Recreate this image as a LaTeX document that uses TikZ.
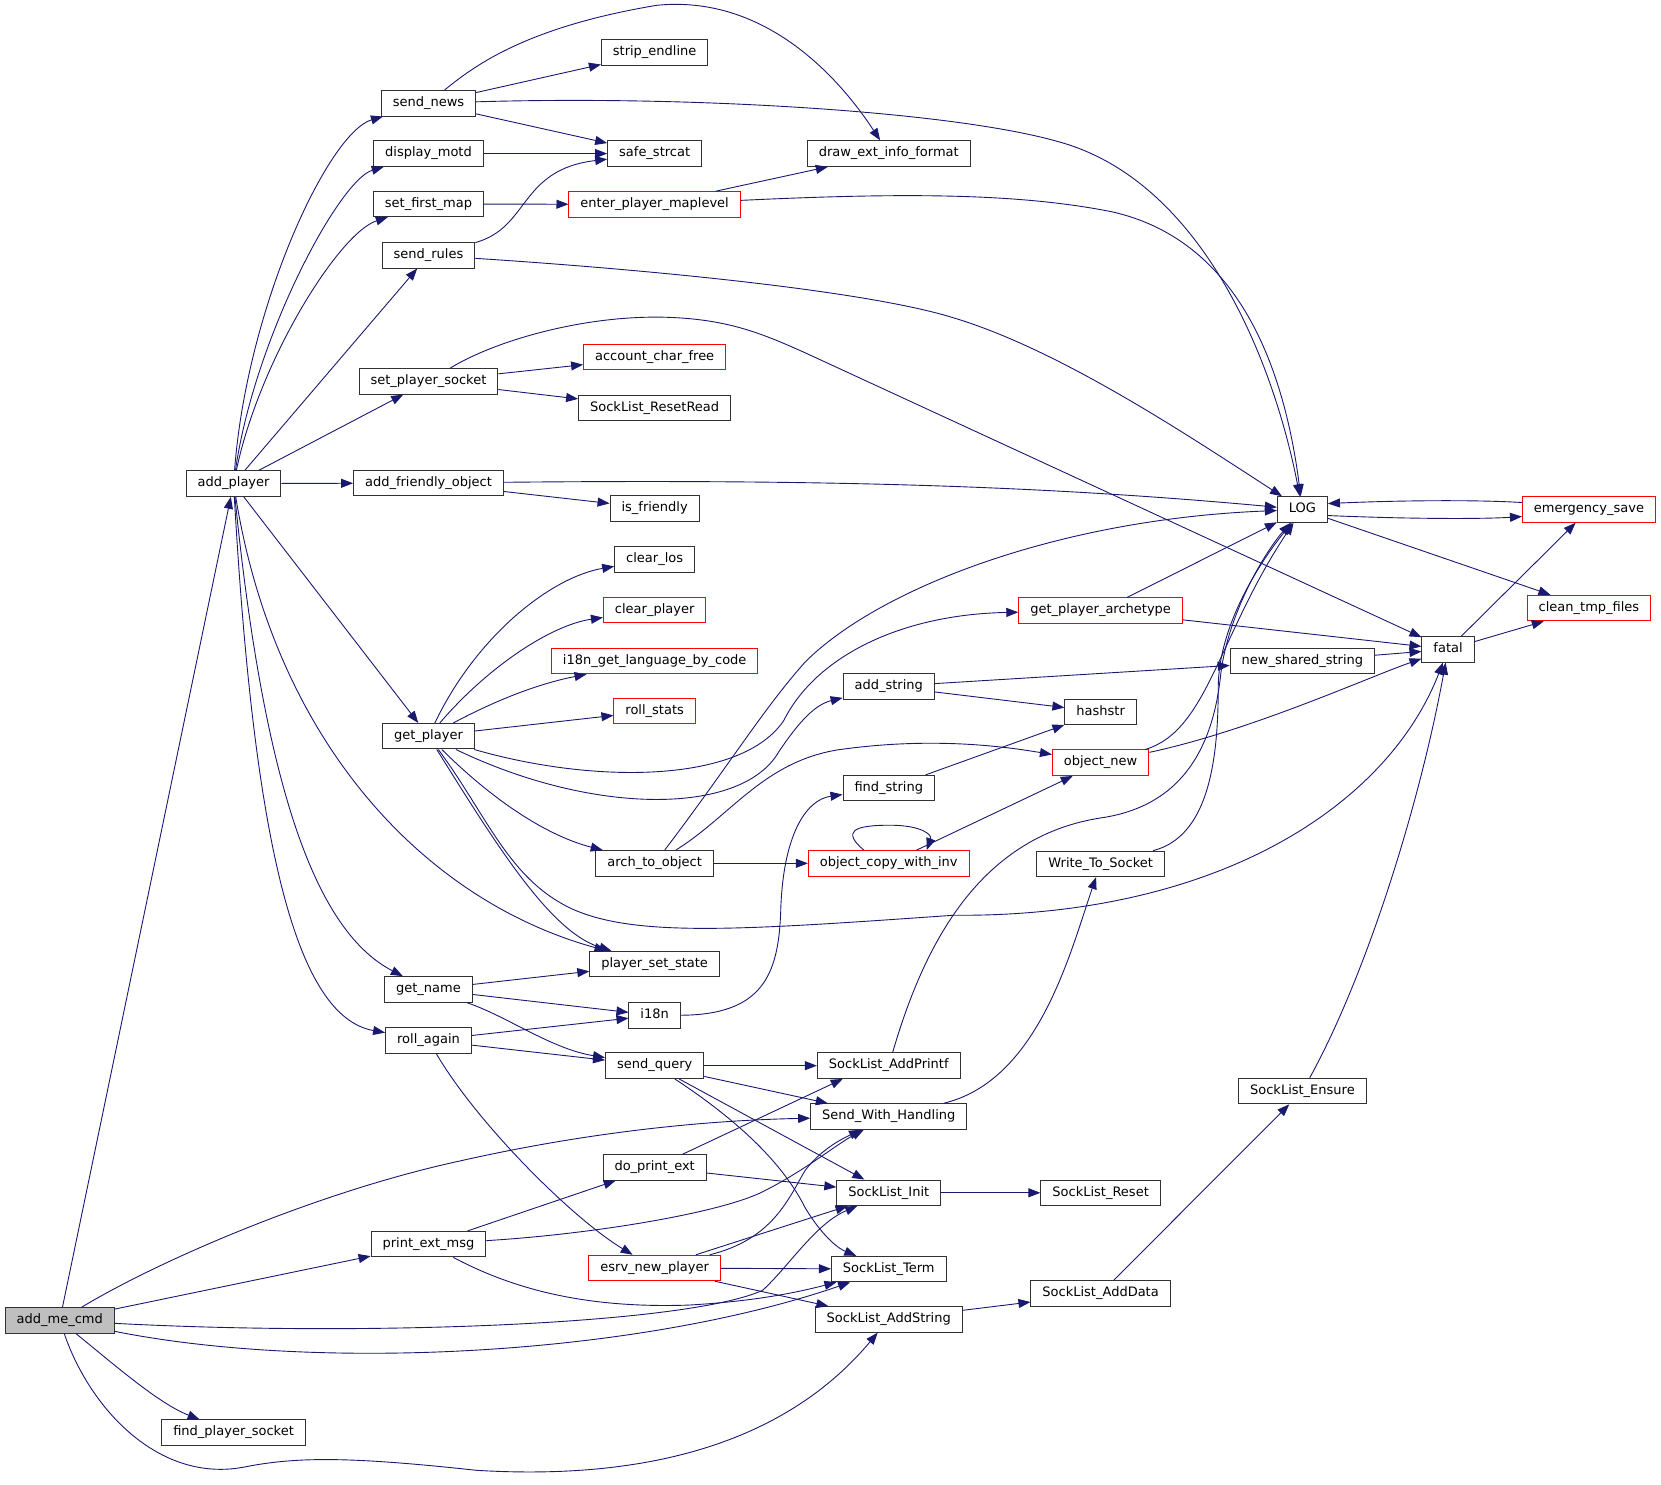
\documentclass[tikz,border=0pt]{standalone}
\usepackage{fontspec}
\setmainfont{DejaVu Sans}
\usetikzlibrary{arrows.meta}
\definecolor{edgeblue}{RGB}{25,25,112}
\definecolor{nodeborder}{RGB}{50,50,50}
\definecolor{nodered}{RGB}{255,0,0}
\definecolor{rootfill}{RGB}{191,191,191}
\tikzset{
  fn/.style={draw=nodeborder, line width=1pt, fill=white, inner xsep=11.5pt, inner ysep=0pt,
    minimum height=25.5pt, text height=9.5pt, text depth=3pt, font=\fontsize{13pt}{15pt}\selectfont},
  fnred/.style={fn, draw=nodered},
  fnroot/.style={fn, fill=rootfill},
  cg/.style={draw=edgeblue, line width=0.9pt, -{Triangle[length=12pt,width=9pt]}},
}
\begin{document}
\begin{tikzpicture}[x=1.0594pt,y=-1.0594pt]
\useasboundingbox (0,0) rectangle (1568,1401.7);
% ---------- nodes ----------
\node[fnroot] (addmecmd) at (56.4,1246.5) {add\_me\_cmd};
\node[fn] (addplayer) at (220.5,456.5) {add\_player};
\node[fn] (findplayersocket) at (220.5,1352.5) {find\_player\_socket};
\node[fn] (sendnews) at (404.5,97.5) {send\_news};
\node[fn] (displaymotd) at (404.5,145) {display\_motd};
\node[fn] (setfirstmap) at (404.5,192.5) {set\_first\_map};
\node[fn] (sendrules) at (404.5,241) {send\_rules};
\node[fn] (setplayersocket) at (404.5,360) {set\_player\_socket};
\node[fn] (addfriendly) at (404.5,456) {add\_friendly\_object};
\node[fn] (getplayer) at (404.5,695) {get\_player};
\node[fn] (getname) at (404.5,934) {get\_name};
\node[fn] (rollagain) at (404.5,982) {roll\_again};
\node[fn] (printextmsg) at (404.5,1174.5) {print\_ext\_msg};
\node[fn] (stripendline) at (618,49.5) {strip\_endline};
\node[fn] (safestrcat) at (618,145) {safe\_strcat};
\node[fnred] (enterplayer) at (618,193) {enter\_player\_maplevel};
\node[fnred] (accountcharfree) at (618,337) {account\_char\_free};
\node[fn] (resetread) at (618,385) {SockList\_ResetRead};
\node[fn] (isfriendly) at (618,480) {is\_friendly};
\node[fn] (clearlos) at (618,528) {clear\_los};
\node[fnred] (clearplayer) at (618,576) {clear\_player};
\node[fnred] (i18nlang) at (618,624) {i18n\_get\_language\_by\_code};
\node[fnred] (rollstats) at (618,671) {roll\_stats};
\node[fn] (archtoobject) at (618,815) {arch\_to\_object};
\node[fn] (playersetstate) at (618,910) {player\_set\_state};
\node[fn] (i18n) at (618,958.5) {i18n};
\node[fn] (sendquery) at (618,1006) {send\_query};
\node[fn] (doprintext) at (618,1102) {do\_print\_ext};
\node[fnred] (esrvnewplayer) at (618,1197) {esrv\_new\_player};
\node[fn] (drawext) at (839,145) {draw\_ext\_info\_format};
\node[fn] (addstring) at (839,648) {add\_string};
\node[fn] (findstring) at (839,744) {find\_string};
\node[fnred] (objcopy) at (839,815) {object\_copy\_with\_inv};
\node[fn] (addprintf) at (839,1006) {SockList\_AddPrintf};
\node[fn] (sendwith) at (839,1054) {Send\_With\_Handling};
\node[fn] (slinit) at (839,1126) {SockList\_Init};
\node[fn] (slterm) at (839,1198) {SockList\_Term};
\node[fn] (sladdstring) at (839,1245.5) {SockList\_AddString};
\node[fnred] (getarch) at (1039,576.5) {get\_player\_archetype};
\node[fn] (hashstr) at (1039,672) {hashstr};
\node[fnred] (objectnew) at (1039,720) {object\_new};
\node[fn] (writetosocket) at (1039,815.5) {Write\_To\_Socket};
\node[fn] (slreset) at (1039,1126) {SockList\_Reset};
\node[fn] (sladddata) at (1039,1221) {SockList\_AddData};
\node[fn] (logn) at (1229.5,481) {LOG};
\node[fn] (newshared) at (1229.5,624) {new\_shared\_string};
\node[fn] (slensure) at (1229.5,1030) {SockList\_Ensure};
\node[fn] (fatal) at (1367,613) {fatal};
\node[fnred] (emergency) at (1500,481) {emergency\_save};
\node[fnred] (cleantmp) at (1500,574) {clean\_tmp\_files};
% ---------- add_me_cmd ----------
\draw[cg] (addmecmd) -- (addplayer);
\draw[cg] (addmecmd) .. controls (150,1190) and (300,1125) .. (434,1096) .. controls (540,1072) and (650,1058) .. (sendwith);
\draw[cg] (addmecmd) -- (printextmsg);
\draw[cg] (addmecmd) .. controls (350,1262) and (650,1250) .. (720,1218) .. controls (745,1195) and (770,1155) .. (slinit);
\draw[cg] (addmecmd) .. controls (300,1295) and (600,1280) .. (slterm);
\draw[cg] (addmecmd) .. controls (110,1290) and (150,1325) .. (findplayersocket);
\draw[cg] (addmecmd) .. controls (85,1330) and (150,1400) .. (230,1385) .. controls (280,1375) and (330,1375) .. (450,1388) .. controls (650,1400) and (760,1340) .. (sladdstring);
% ---------- add_player ----------
\draw[cg] (addplayer) .. controls (233,290) and (310,125) .. (sendnews);
\draw[cg] (addplayer) .. controls (240,320) and (320,170) .. (displaymotd);
\draw[cg] (addplayer) .. controls (245,340) and (320,220) .. (setfirstmap);
\draw[cg] (addplayer) -- (sendrules);
\draw[cg] (addplayer) -- (setplayersocket);
\draw[cg] (addplayer) -- (addfriendly);
\draw[cg] (addplayer) -- (getplayer);
\draw[cg] (addplayer) .. controls (260,700) and (400,850) .. (playersetstate);
\draw[cg] (addplayer) .. controls (250,750) and (300,880) .. (getname);
\draw[cg] (addplayer) .. controls (240,800) and (280,960) .. (rollagain);
% ---------- send_news ----------
\draw[cg] (sendnews) -- (stripendline);
\draw[cg] (sendnews) -- (safestrcat);
\draw[cg] (sendnews) .. controls (450,60) and (500,25) .. (620,5) .. controls (720,-5) and (790,70) .. (drawext);
\draw[cg] (sendnews) .. controls (650,90) and (900,105) .. (1000,134) .. controls (1130,170) and (1200,330) .. (logn);
% ---------- col 2 others ----------
\draw[cg] (displaymotd) -- (safestrcat);
\draw[cg] (setfirstmap) -- (enterplayer);
\draw[cg] (sendrules) .. controls (500,215) and (490,160) .. (safestrcat);
\draw[cg] (sendrules) .. controls (620,255) and (820,275) .. (900,300) .. controls (1000,330) and (1120,410) .. (logn);
\draw[cg] (setplayersocket) -- (accountcharfree);
\draw[cg] (setplayersocket) -- (resetread);
\draw[cg] (setplayersocket) .. controls (470,320) and (560,295) .. (640,300) .. controls (690,303) and (720,315) .. (760,333) -- (fatal);
\draw[cg] (enterplayer) -- (drawext);
\draw[cg] (enterplayer) .. controls (850,182) and (960,182) .. (1050,200) .. controls (1160,225) and (1210,330) .. (logn);
\draw[cg] (addfriendly) .. controls (800,452) and (1000,460) .. (logn);
\draw[cg] (addfriendly) -- (isfriendly);
% ---------- get_player ----------
\draw[cg] (getplayer) .. controls (450,600) and (520,545) .. (clearlos);
\draw[cg] (getplayer) .. controls (460,630) and (520,590) .. (clearplayer);
\draw[cg] (getplayer) .. controls (470,660) and (510,645) .. (i18nlang);
\draw[cg] (getplayer) -- (rollstats);
\draw[cg] (getplayer) .. controls (560,740) and (700,740) .. (740,680) .. controls (770,620) and (850,580) .. (getarch);
\draw[cg] (getplayer) .. controls (560,770) and (700,770) .. (735,710) .. controls (755,680) and (770,665) .. (addstring);
\draw[cg] (getplayer) .. controls (470,760) and (520,790) .. (archtoobject);
\draw[cg] (getplayer) .. controls (470,800) and (520,880) .. (playersetstate);
\draw[cg] (getplayer) .. controls (460,770) and (480,830) .. (540,858) .. controls (600,885) and (700,878) .. (900,864) .. controls (1150,866) and (1310,760) .. (fatal);
% ---------- get_name / roll_again ----------
\draw[cg] (getname) -- (playersetstate);
\draw[cg] (getname) -- (i18n);
\draw[cg] (getname) .. controls (480,960) and (520,990) .. (sendquery);
\draw[cg] (rollagain) -- (i18n);
\draw[cg] (rollagain) -- (sendquery);
\draw[cg] (rollagain) .. controls (450,1060) and (540,1150) .. (esrvnewplayer);
% ---------- col 3 ----------
\draw[cg] (i18n) .. controls (720,958) and (735,920) .. (737,860) .. controls (739,790) and (760,755) .. (findstring);
\draw[cg] (archtoobject) .. controls (690,720) and (720,670) .. (760,625) .. controls (830,555) and (1000,490) .. (logn);
\draw[cg] (archtoobject) .. controls (690,770) and (720,720) .. (790,708) .. controls (880,695) and (950,705) .. (objectnew);
\draw[cg] (archtoobject) -- (objcopy);
\draw[cg] ([xshift=-25pt]objcopy.north) .. controls (795,785) and (805,779) .. (840,779) .. controls (870,779) and (880,788) .. ([xshift=38pt]objcopy.north);
\draw[cg] (objcopy) -- (objectnew);
\draw[cg] (sendquery) -- (addprintf);
\draw[cg] (sendquery) -- (sendwith);
\draw[cg] (sendquery) -- (slinit);
\draw[cg] (sendquery) .. controls (700,1060) and (740,1100) .. (760,1140) .. controls (775,1165) and (790,1178) .. (slterm);
\draw[cg] (doprintext) -- ([xshift=-46pt]addprintf.south);
\draw[cg] (doprintext) -- (slinit);
\draw[cg] (printextmsg) -- (doprintext);
\draw[cg] (printextmsg) .. controls (560,1165) and (680,1145) .. (720,1125) .. controls (760,1105) and (790,1080) .. (sendwith);
\draw[cg] (printextmsg) .. controls (490,1220) and (560,1235) .. (650,1232) .. controls (720,1228) and (760,1218) .. (slterm);
\draw[cg] (esrvnewplayer) .. controls (730,1170) and (745,1130) .. (760,1105) .. controls (775,1085) and (795,1075) .. (sendwith);
\draw[cg] (esrvnewplayer) -- (slinit);
\draw[cg] (esrvnewplayer) -- (slterm);
\draw[cg] (esrvnewplayer) -- (sladdstring);
% ---------- col 4 ----------
\draw[cg] (findstring) -- (hashstr);
\draw[cg] (addstring) -- (newshared);
\draw[cg] (addstring) -- (hashstr);
\draw[cg] (addprintf) .. controls (870,900) and (920,790) .. (1040,772) .. controls (1120,760) and (1145,700) .. (1152,640) .. controls (1158,580) and (1195,520) .. (logn);
\draw[cg] (sendwith) .. controls (980,1020) and (1010,900) .. (writetosocket);
\draw[cg] (slinit) -- (slreset);
\draw[cg] (sladdstring) -- (sladddata);
% ---------- col 5+ ----------
\draw[cg] (getarch) -- (logn);
\draw[cg] (getarch) -- (fatal);
\draw[cg] (objectnew) .. controls (1140,690) and (1150,600) .. (logn);
\draw[cg] (objectnew) .. controls (1180,690) and (1290,640) .. (fatal);
\draw[cg] (writetosocket) .. controls (1140,790) and (1150,720) .. (1150,650) .. controls (1150,590) and (1190,530) .. (logn);
\draw[cg] (sladddata) -- (slensure);
\draw[cg] (newshared) -- (fatal);
\draw[cg] (slensure) .. controls (1290,920) and (1340,760) .. (fatal);
\draw[cg] ([yshift=-6pt]logn.east) .. controls (1330,490) and (1400,490) .. ([yshift=-7pt]emergency.west);
\draw[cg] ([yshift=7pt]emergency.west) .. controls (1400,472) and (1330,472) .. ([yshift=6pt]logn.east);
\draw[cg] (logn) -- (cleantmp);
\draw[cg] (fatal) -- (emergency);
\draw[cg] (fatal) -- (cleantmp);
\end{tikzpicture}
\end{document}
